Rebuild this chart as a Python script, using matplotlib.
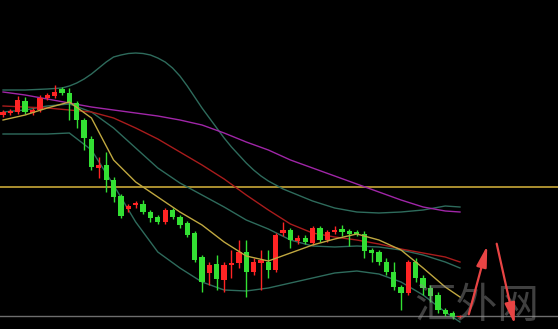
import matplotlib.pyplot as plt
import numpy as np

plt.rcParams['font.family'] = ['Noto Sans CJK SC', 'DejaVu Sans']

# candle data (price units)
opens = [214, 216, 217, 228, 216, 219, 231, 233, 240, 236, 226, 209, 190, 161, 164, 149,
         133, 120, 124, 125, 117, 112, 107, 119, 112, 106, 96, 72, 56, 65, 49, 64,
         66, 77, 57, 66, 67, 59, 96, 99, 88, 91, 86, 101, 89, 97, 100, 98,
         97, 95, 79, 77, 67, 57, 42, 36, 67, 51, 41, 34, 19, 16, 12]
highs = [219, 220, 233, 232, 221, 234, 236, 244, 242, 241, 228, 211, 193, 172, 177, 152,
         135, 125, 128, 129, 119, 114, 121, 121, 114, 108, 98, 74, 67, 74, 67, 79,
         89, 89, 71, 79, 79, 96, 107, 101, 94, 94, 103, 103, 99, 103, 104, 100,
         99, 98, 81, 79, 71, 67, 44, 69, 71, 54, 44, 37, 21, 18, 14]
lows = [212, 214, 215, 215, 214, 217, 229, 231, 234, 209, 201, 179, 159, 151, 137, 127,
        111, 117, 121, 115, 107, 105, 105, 110, 101, 92, 67, 37, 44, 39, 37, 51,
        61, 32, 54, 39, 51, 57, 93, 81, 85, 85, 84, 87, 87, 95, 93, 83,
        93, 71, 67, 64, 54, 39, 19, 34, 47, 34, 27, 16, 13, 10, 11]
closes = [217, 218, 229, 217, 219, 231, 234, 237, 236, 226, 209, 191, 162, 164, 149, 132,
          113, 123, 126, 117, 111, 107, 119, 112, 104, 94, 69, 47, 64, 50, 64, 66,
          77, 57, 67, 69, 59, 94, 99, 89, 91, 87, 101, 89, 97, 99, 97, 95,
          95, 78, 76, 67, 57, 42, 36, 67, 51, 41, 33, 19, 15, 12, 13]

# indicator lines, sampled at candle positions
line_x = [0, 3, 6, 9, 12, 15, 18, 21, 24, 27, 30, 33, 36, 39, 42, 45, 48, 51, 54, 57, 60, 62]
ma_fast = [209, 214, 221, 227, 211, 169, 147, 132, 117, 104, 87, 73, 68, 76, 84, 90, 95, 89, 79, 61, 42, 32]
ma_mid = [223, 222, 221, 219, 217, 211, 201, 190, 177, 164, 150, 134, 119, 105, 96, 92, 89, 85, 80, 76, 72, 67]
ma_slow = [237, 234, 230, 226, 222, 219, 216, 213, 209, 204, 196, 187, 179, 169, 161, 153, 145, 137, 129, 122, 118, 117]
bb_middle = [217, 219, 223, 225, 217, 201, 181, 161, 146, 134, 122, 109, 100, 89, 83, 82, 83, 82, 79, 74, 67, 61]
bb_lower = [195, 195, 195, 196, 179, 144, 107, 77, 61, 47, 39, 38, 41, 46, 51, 56, 58, 55, 47, 34, 17, 7]

# upper band has a round hump, read more densely
upper_x = [0, 3, 6, 8, 9, 10, 11, 12, 13, 14, 15, 16, 17, 18, 19, 20, 21, 22, 23, 24,
           25, 26, 27, 28, 29, 30, 31, 32, 33, 34, 35, 36, 38, 40, 42, 45, 48, 51, 54, 57, 60, 62]
bb_upper = [239, 239, 240, 241, 243, 246, 250, 255, 261, 267, 272, 274, 275.5, 276, 275.5, 274, 271, 267, 261, 253,
            243, 232, 221, 211, 201, 191, 182, 174, 166, 159, 153, 148, 140, 134, 128, 121, 117, 116, 117, 119, 123, 122]

level_price = 142
base_price = 13

# hand drawn arrows (start x, start price, end x, end price)
arrow_up = [63.1, 12, 65.8, 86]
arrow_down = [66.9, 88, 69.5, 2]

fig = plt.figure(figsize=(5.58, 3.29), dpi=100, facecolor='black')
ax = fig.add_axes([0, 0, 1, 1])
ax.set_facecolor('black')

x = np.arange(len(opens))
for i in x:
    o, h, l, c = opens[i], highs[i], lows[i], closes[i]
    col = '#ff2424' if c > o else '#33e033'
    ax.vlines(i, l, h, color=col, lw=1, zorder=3)
    ax.bar(i, max(abs(c - o), 1.5), bottom=min(o, c), width=0.72, color=col, zorder=4)

ax.plot(upper_x, bb_upper, color='#2e6b5c', lw=1, zorder=2)
ax.plot(line_x, bb_middle, color='#2e6b5c', lw=1, zorder=2)
ax.plot(line_x, bb_lower, color='#2e6b5c', lw=1, zorder=2)
ax.plot(line_x, ma_slow, color='#a026a8', lw=1, zorder=2)
ax.plot(line_x, ma_mid, color='#a81c1c', lw=1, zorder=2)
ax.plot(line_x, ma_fast, color='#c0a840', lw=1, zorder=5)

ax.axhline(level_price, color='#c8a838', lw=1.2, zorder=1)
ax.axhline(base_price, color='#6e6e6e', lw=1, zorder=1)

# watermark
ax.text(64.3, 2, '汇外网', fontsize=30, color='#909090', alpha=0.45, fontweight='light',
        ha='center', va='bottom', zorder=6)

for a in (arrow_up, arrow_down):
    ax.annotate('', xy=(a[2], a[3]), xytext=(a[0], a[1]),
                arrowprops=dict(arrowstyle='-|>,head_length=0.9,head_width=0.22',
                                color='#e84444', lw=1.6, mutation_scale=14), zorder=7)

ax.set_xlim(-0.41, 75.3)
ax.set_ylim(0, 329)
ax.axis('off')

fig.savefig('out.png', dpi=100, facecolor='black')
